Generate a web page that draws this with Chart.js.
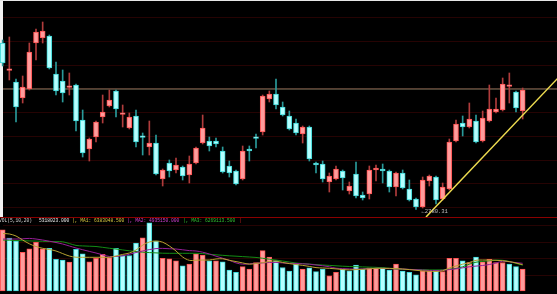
<!DOCTYPE html>
<html>
<head>
<meta charset="utf-8">
<script src="https://cdn.jsdelivr.net/npm/chart.js@4.4.1/dist/chart.umd.min.js"></script>
<style>
  html, body { margin: 0; padding: 0; background: #000; overflow: hidden; }
  #wrap { position: relative; width: 557px; height: 294px; overflow: hidden; background: #000; }
  #edgeL { position: absolute; left: 0; top: 0; width: 3px; height: 217px; background: #f2f2f2; }
  #edgeT { position: absolute; left: 0; top: 0; width: 557px; height: 1px; background: #e6e6e6; }
  canvas { position: absolute; left: 0; }
  #main { top: 0; }
  #vol { top: 217px; }
  #sep { position: absolute; left: 0; top: 217px; width: 557px; height: 1px; background: #8a0000; }
  #volText { position: absolute; left: 0; top: 217px; width: 557px; height: 7px; font: 4.6px "Liberation Mono", monospace; white-space: pre; }
  #volText span { position: absolute; top: 0; line-height: 7px; }
  #lowTag { position: absolute; font: 5.5px "Liberation Mono", monospace; color: #bdbdbd; white-space: pre; line-height: 6px; }
</style>
</head>
<body>
<div id="wrap">
  <div id="edgeL"></div>
  <div id="edgeT"></div>
  <canvas id="main" width="557" height="217"></canvas>
  <canvas id="vol" width="557" height="77"></canvas>
  <div id="sep"></div>
  <div id="volText">
    <span style="left:-1px;color:#d0d0d0">VOL(5,10,20)</span>
    <span style="left:39px;color:#e8e8e8">5318023.000</span>
    <span style="left:72px;color:#d8c840">|, MA1: 6383048.500</span>
    <span style="left:127px;color:#d040d0">|, MA2: 4935150.000</span>
    <span style="left:183px;color:#30c030">|, MA3: 6269113.500</span>
    <span style="left:239px;color:#d02020">|</span>
  </div>
  <div id="lowTag">←2780.31</div>
</div>
<script>
// ローソク足 (日足)
const open = [
  3113.3, 3058.7, 3035.3, 3003.3, 3021.3, 3113.3, 3123.3, 3127.3, 3051.3, 3037.3,
  3024.7, 3029.3, 2959.3, 2901.3, 2925.3, 2965.3, 2987.3, 3017.3, 2970.7, 2943.3,
  2967.3, 2925.9, 2905.3, 2913.3, 2841.3, 2873.3, 2859.3, 2865.3, 2849.3, 2873.3,
  2913.3, 2917.3, 2917.3, 2897.3, 2867.3, 2857.3, 2841.3, 2901.3, 2923.9, 2935.3,
  3001.3, 3011.3, 2985.3, 2967.3, 2953.3, 2931.3, 2945.3, 2873.3, 2871.3, 2835.3,
  2841.3, 2857.3, 2817.3, 2851.3, 2809.3, 2811.3, 2859.3, 2861.3, 2857.3, 2825.3,
  2853.3, 2821.3, 2801.3, 2785.3, 2837.3, 2845.3, 2801.3, 2821.3, 2917.3, 2953.3,
  2945.3, 2957.3, 2917.3, 2957.3, 2975.3, 2979.3, 3026.7, 3015.3, 2977.3
];
const high = [
  3119.3, 3125.3, 3041.3, 3047.3, 3113.3, 3141.3, 3155.3, 3129.3, 3075.3, 3059.3,
  3053.3, 3031.3, 2979.3, 2923.3, 2957.3, 3009.3, 3019.3, 3019.3, 2989.3, 2973.3,
  2979.3, 2933.3, 2957.3, 2929.3, 2861.3, 2879.3, 2883.3, 2867.3, 2887.3, 2905.3,
  2969.3, 2925.3, 2923.3, 2905.3, 2877.3, 2859.3, 2907.3, 2907.3, 2931.3, 3009.3,
  3017.3, 3041.3, 2995.3, 2977.3, 2961.3, 2947.3, 2947.3, 2875.3, 2877.3, 2853.3,
  2867.3, 2859.3, 2835.3, 2875.3, 2815.3, 2867.3, 2869.3, 2871.3, 2859.3, 2855.3,
  2859.3, 2839.3, 2803.3, 2845.3, 2849.3, 2847.3, 2833.3, 2921.3, 2959.3, 2967.3,
  2993.3, 2969.3, 2977.3, 3029.3, 3003.3, 3043.3, 3053.3, 3017.3, 3023.3
];
const low = [
  3067.3, 3039.3, 2955.3, 2993.3, 3019.3, 3079.3, 3113.3, 3061.3, 3009.3, 2995.3,
  3009.3, 2937.3, 2885.3, 2877.3, 2915.3, 2953.3, 2985.3, 2965.3, 2945.3, 2941.3,
  2905.3, 2889.3, 2889.3, 2849.3, 2827.3, 2845.3, 2853.3, 2839.3, 2833.3, 2871.3,
  2911.3, 2897.3, 2905.3, 2853.3, 2845.3, 2829.3, 2839.3, 2877.3, 2903.3, 2929.3,
  2995.3, 2981.3, 2967.3, 2939.3, 2929.3, 2913.3, 2877.3, 2853.3, 2835.3, 2815.3,
  2839.3, 2819.3, 2811.3, 2803.3, 2799.3, 2801.3, 2837.3, 2833.3, 2815.3, 2807.3,
  2821.3, 2797.3, 2780.31, 2783.3, 2827.3, 2791.3, 2799.3, 2819.3, 2915.3, 2927.3,
  2943.3, 2913.3, 2915.3, 2955.3, 2973.3, 2977.3, 2993.3, 2975.3, 2961.3
];
const close = [
  3073.3, 3059.9, 2985.3, 3025.3, 3095.3, 3135.3, 3137.3, 3063.3, 3017.3, 3013.3,
  3025.9, 2957.3, 2893.3, 2921.3, 2955.3, 2975.3, 2999.3, 2981.3, 2971.9, 2965.3,
  2915.3, 2924.7, 2913.3, 2851.3, 2859.3, 2857.3, 2869.3, 2847.3, 2871.3, 2903.3,
  2943.3, 2907.3, 2911.3, 2855.3, 2853.3, 2831.3, 2897.3, 2897.3, 2922.7, 3007.3,
  3011.3, 2989.3, 2969.3, 2941.3, 2933.3, 2945.3, 2881.3, 2869.3, 2841.3, 2847.3,
  2861.3, 2843.3, 2827.3, 2807.3, 2803.3, 2859.3, 2863.3, 2857.3, 2825.3, 2853.3,
  2823.3, 2799.3, 2785.3, 2839.3, 2847.3, 2799.3, 2825.3, 2915.3, 2951.3, 2945.3,
  2961.3, 2915.3, 2963.3, 2981.3, 2981.3, 3031.3, 3027.9, 2983.3, 3019.3
];

// 出来高 (百万株) と 移動平均
const volume = [
  14.8, 12.8, 12.1, 9.4, 10.2, 11.8, 10.2, 10.35, 7.7, 7.5,
  7.0, 10.1, 9.0, 7.1, 7.9, 8.9, 8.1, 10.35, 8.6, 8.6,
  11.6, 12.9, 16.5, 12.1, 7.9, 7.8, 7.3, 6.1, 6.5, 9.0,
  8.7, 7.3, 7.3, 7.1, 5.1, 4.5, 5.9, 5.3, 6.9, 9.8,
  8.2, 7.3, 5.7, 4.8, 6.5, 5.3, 5.6, 4.7, 5.3, 3.7,
  4.5, 5.3, 4.9, 6.3, 5.3, 5.6, 5.5, 5.6, 5.1, 6.5,
  4.8, 4.5, 3.9, 4.9, 4.8, 5.1, 4.7, 7.9, 7.9, 7.3,
  6.9, 8.2, 7.1, 7.7, 6.9, 6.9, 6.5, 5.9, 5.318
];
const volUp = [
  1, 0, 0, 1, 1, 1, 1, 0, 0, 0,
  1, 0, 0, 1, 1, 1, 1, 0, 0, 0,
  0, 1, 0, 0, 1, 1, 1, 0, 1, 1,
  1, 0, 1, 0, 0, 0, 1, 1, 1, 1,
  1, 0, 0, 0, 0, 1, 0, 0, 0, 1,
  1, 0, 0, 0, 0, 1, 1, 0, 0, 1,
  0, 0, 0, 1, 1, 0, 1, 1, 1, 0,
  1, 0, 1, 1, 1, 1, 0, 0, 1
];
const ma5 = [
  13.94, 13.82, 13.33, 12.36, 11.44, 10.79, 10.35, 10.06, 9.70, 9.07,
  8.48, 8.19, 8.17, 8.17, 8.17, 8.17, 8.17, 8.48, 8.87, 9.21,
  9.94, 11.10, 11.88, 12.12, 11.83, 10.91, 9.70, 8.24, 7.44, 7.47,
  7.51, 7.51, 7.76, 7.81, 7.44, 7.13, 6.81, 6.50, 6.67, 6.86,
  7.15, 7.27, 6.91, 6.64, 6.42, 6.21, 5.96, 5.67, 5.58, 5.50,
  5.36, 5.19, 5.11, 5.19, 5.26, 5.38, 5.50, 5.50, 5.50, 5.43,
  5.33, 5.19, 5.02, 4.85, 4.78, 4.73, 4.90, 5.58, 6.06, 6.50,
  6.91, 7.44, 7.51, 7.51, 7.44, 7.34, 7.13, 6.79, 6.38
];
const ma10 = [
  12.60, 12.60, 12.60, 12.65, 12.75, 12.60, 12.36, 12.07, 11.76, 11.39,
  10.91, 10.42, 10.01, 9.60, 9.21, 8.77, 8.36, 8.39, 8.53, 8.90,
  9.33, 9.70, 10.04, 10.28, 10.33, 10.25, 10.18, 9.99, 9.79, 9.70,
  9.41, 8.97, 8.44, 7.95, 7.44, 6.81, 6.50, 6.59, 6.69, 6.81,
  6.91, 6.93, 6.81, 6.71, 6.67, 6.59, 6.50, 6.30, 6.13, 5.87,
  5.53, 5.43, 5.36, 5.28, 5.36, 5.45, 5.50, 5.48, 5.43, 5.38,
  5.33, 5.24, 5.16, 5.07, 4.99, 4.92, 5.04, 5.19, 5.36, 5.62,
  5.87, 6.04, 6.18, 6.42, 6.79, 7.22, 7.08, 6.88, 6.71
];
const ma20 = [
  12.36, 12.31, 12.24, 12.19, 12.14, 12.10, 12.05, 12.00, 11.97, 11.93,
  11.51, 11.05, 10.93, 10.86, 10.79, 10.59, 10.37, 10.16, 9.96, 9.74,
  9.57, 9.41, 9.31, 9.24, 9.16, 9.14, 9.14, 9.14, 9.14, 9.14,
  9.09, 8.90, 8.77, 8.65, 8.53, 8.44, 8.34, 8.24, 8.14, 7.93,
  7.71, 7.51, 7.27, 7.03, 6.79, 6.64, 6.52, 6.40, 6.30, 6.21,
  6.11, 6.01, 5.94, 5.89, 5.84, 5.79, 5.74, 5.62, 5.48, 5.33,
  5.26, 5.21, 5.19, 5.16, 5.11, 5.09, 5.14, 5.28, 5.48, 5.87,
  6.50, 6.98, 7.18, 7.32, 7.47, 7.44, 7.15, 6.71, 6.27
];

// 目盛り・補助線
const priceGrid = [2785.3, 2832.8, 2880.3, 2927.8, 2975.3, 3022.8, 3070.3, 3117.8, 3165.3];
const volGrid = [4, 8, 12, 16];
const levelPrice = 3021.3;
const trendPts = [{ x: 63.5, y: 2765.3 }, { x: 83.2, y: 3042.0 }];
const lowIndex = 62;

const X_MIN = 0.05, X_MAX = 83.15;
const UP_FILL = '#ff9c9c', UP_EDGE = '#ff5252';
const DN_FILL = '#b4ffff', DN_EDGE = '#3cd8d8';
const UP_WICK = '#b03c3c', DN_WICK = '#2a9a9a';

const days = open.map((_, i) => i);
const isUp = days.map(i => close[i] >= open[i]);

const gridLines = (values, color) => ({
  id: 'gridLines',
  beforeDatasetsDraw(chart) {
    const { ctx, chartArea, scales } = chart;
    ctx.save();
    ctx.strokeStyle = color;
    ctx.lineWidth = 1;
    values.forEach(v => {
      const y = Math.round(scales.y.getPixelForValue(v)) + 0.5;
      ctx.beginPath();
      ctx.moveTo(chartArea.left, y);
      ctx.lineTo(chartArea.right, y);
      ctx.stroke();
    });
    ctx.restore();
  }
});

// 最安値ラベルの位置合わせ
const lowTagPlugin = {
  id: 'lowTag',
  afterRender(chart) {
    const el = document.getElementById('lowTag');
    const px = chart.scales.x.getPixelForValue(lowIndex);
    const py = chart.scales.y.getPixelForValue(low[lowIndex]);
    el.style.left = (px + 5.5) + 'px';
    el.style.top = (py - 0.8) + 'px';
  }
};

const baseX = { type: 'linear', display: false, min: X_MIN, max: X_MAX, offset: false };

new Chart(document.getElementById('main'), {
  type: 'bar',
  data: {
    datasets: [
      {
        type: 'line',
        data: [{ x: X_MIN, y: levelPrice }, { x: X_MAX, y: levelPrice }],
        borderColor: '#8a7d62',
        borderWidth: 1,
        pointRadius: 0,
        order: 3
      },
      {
        data: days.map(i => ({ x: i, y: [low[i], high[i]] })),
        backgroundColor: days.map(i => isUp[i] ? UP_WICK : DN_WICK),
        barThickness: 1,
        grouped: false,
        clip: false,
        order: 2
      },
      {
        data: days.map(i => ({ x: i, y: [open[i], close[i]] })),
        backgroundColor: days.map(i => isUp[i] ? UP_FILL : DN_FILL),
        borderColor: days.map(i => isUp[i] ? UP_EDGE : DN_EDGE),
        borderWidth: 1,
        borderSkipped: false,
        barThickness: 5,
        minBarLength: 1.5,
        grouped: false,
        clip: false,
        order: 1
      },
      {
        type: 'line',
        data: trendPts,
        borderColor: '#eedc50',
        borderWidth: 1.5,
        pointRadius: 0,
        order: 0
      }
    ]
  },
  options: {
    responsive: false,
    animation: false,
    devicePixelRatio: 1,
    layout: { padding: { left: 3, top: 1, right: 0, bottom: 0 } },
    plugins: { legend: { display: false }, tooltip: { enabled: false } },
    scales: {
      x: baseX,
      y: { display: false, min: 2765.3, max: 3197.3 }
    }
  },
  plugins: [gridLines(priceGrid, '#260303'), lowTagPlugin]
});

new Chart(document.getElementById('vol'), {
  type: 'bar',
  data: {
    datasets: [
      {
        type: 'line', data: days.map(i => ({ x: i, y: ma5[i] })),
        borderColor: '#b8a230', borderWidth: 1, pointRadius: 0, tension: 0.35, order: 0
      },
      {
        type: 'line', data: days.map(i => ({ x: i, y: ma10[i] })),
        borderColor: '#961e96', borderWidth: 1, pointRadius: 0, tension: 0.35, order: 0
      },
      {
        type: 'line', data: days.map(i => ({ x: i, y: ma20[i] })),
        borderColor: '#148c14', borderWidth: 1, pointRadius: 0, tension: 0.35, order: 0
      },
      {
        data: days.map(i => ({ x: i, y: volume[i] })),
        backgroundColor: days.map(i => volUp[i] ? UP_FILL : DN_FILL),
        borderColor: days.map(i => volUp[i] ? UP_EDGE : DN_EDGE),
        borderWidth: 1,
        borderSkipped: false,
        barThickness: 5,
        grouped: false,
        clip: false,
        order: 1
      }
    ]
  },
  options: {
    responsive: false,
    animation: false,
    devicePixelRatio: 1,
    layout: { padding: { left: 3, top: 8, right: 0, bottom: 3 } },
    plugins: { legend: { display: false }, tooltip: { enabled: false } },
    scales: {
      x: baseX,
      y: { display: false, min: 0, max: 16 }
    }
  },
  plugins: [gridLines(volGrid, '#260303')]
});
</script>
</body>
</html>
